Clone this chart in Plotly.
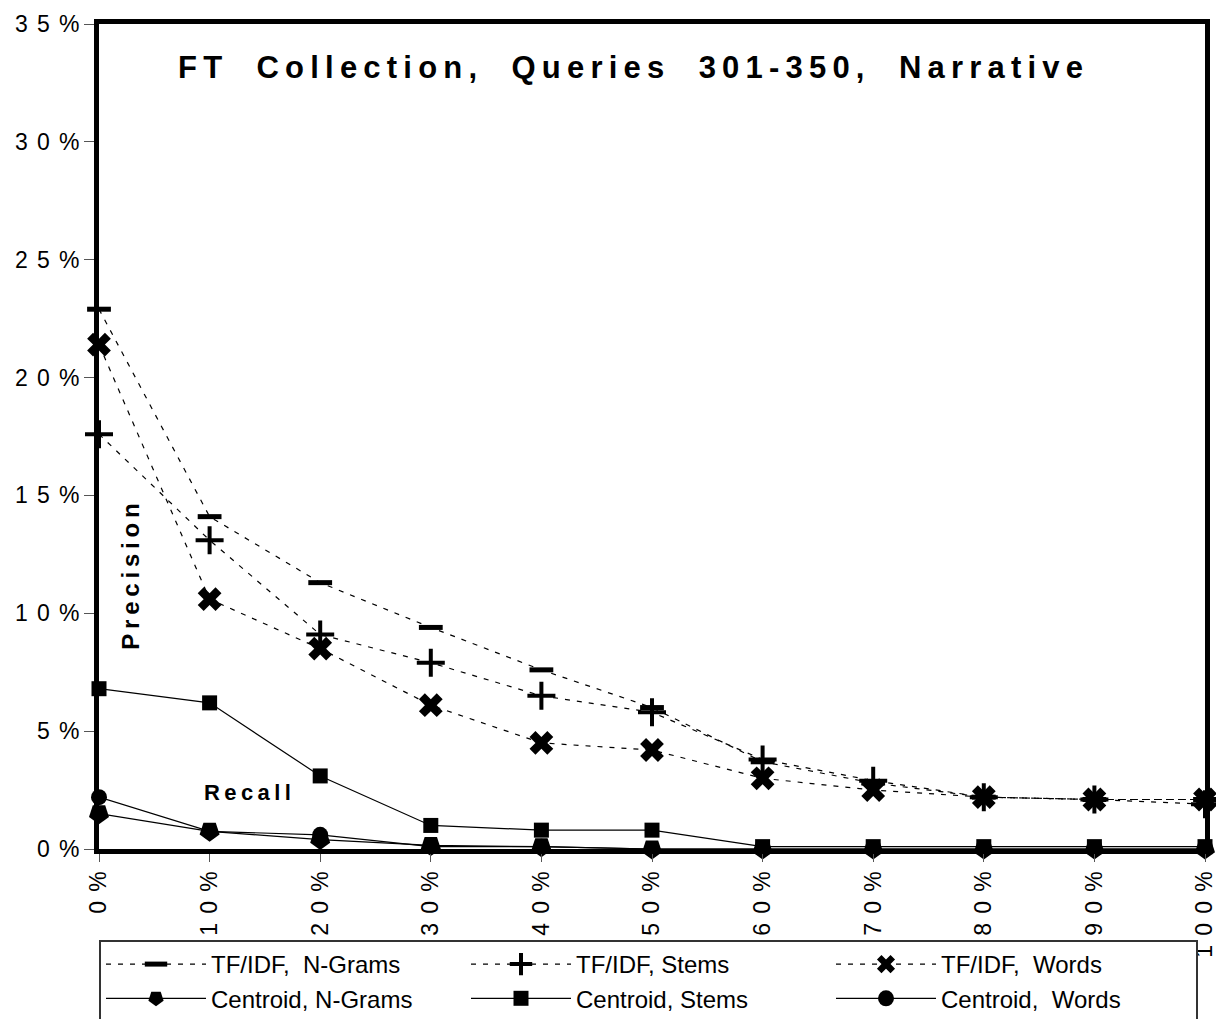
import plotly.graph_objects as go

recall = [0, 10, 20, 30, 40, 50, 60, 70, 80, 90, 100]
x_labels = ["0%", "10%", "20%", "30%", "40%", "50%", "60%", "70%", "80%", "90%", "100%"]
y_vals = [0, 5, 10, 15, 20, 25, 30, 35]
y_labels = ["0%", "5%", "10%", "15%", "20%", "25%", "30%", "35%"]

tfidf_ngrams = [22.9, 14.1, 11.3, 9.4, 7.6, 6.0, 3.7, 2.8, 2.2, 2.1, 2.1]
tfidf_stems = [17.6, 13.1, 9.1, 7.9, 6.5, 5.8, 3.8, 2.9, 2.2, 2.1, 1.9]
tfidf_words = [21.4, 10.6, 8.5, 6.1, 4.5, 4.2, 3.0, 2.5, 2.2, 2.1, 2.1]
cent_ngrams = [1.5, 0.75, 0.4, 0.15, 0.1, 0.0, 0.0, 0.0, 0.0, 0.0, 0.0]
cent_stems = [6.8, 6.2, 3.1, 1.0, 0.8, 0.8, 0.1, 0.1, 0.1, 0.1, 0.1]
cent_words = [2.2, 0.75, 0.6, 0.1, 0.1, 0.0, 0.0, 0.0, 0.0, 0.0, 0.0]

series_names = ["TF/IDF,  N-Grams", "TF/IDF, Stems", "TF/IDF,  Words",
                "Centroid, N-Grams", "Centroid, Stems", "Centroid,  Words"]

title_text = "FT    Collection,    Queries    301-350,    Narrative"

THIN = "\u2009"
NB = "\u00a0"


def spaced(s, sep):
    # letter-spaced rendering of a label; real spaces kept as non-breaking spaces
    out = []
    for i, ch in enumerate(s):
        if ch == " ":
            out.append(NB)
        else:
            out.append(ch)
            if i + 1 < len(s) and s[i + 1] != " ":
                out.append(sep)
    return "".join(out)


def keep_spaces(s):
    return s.replace(" ", NB)


FONT = "Arial, 'Liberation Sans', sans-serif"

styles = [
    ("5px,7px", dict(symbol="line-ew", size=17, line=dict(width=5, color="black"))),
    ("5px,7px", dict(symbol="cross-thin", size=20, line=dict(width=4, color="black"))),
    ("5px,7px", dict(symbol="x", size=21, color="black", line=dict(width=0))),
    ("solid", dict(symbol="pentagon", angle=180, size=21, color="black", line=dict(width=0))),
    ("solid", dict(symbol="square", size=15, color="black", line=dict(width=0))),
    ("solid", dict(symbol="circle", size=16, color="black", line=dict(width=0))),
]
values = [tfidf_ngrams, tfidf_stems, tfidf_words, cent_ngrams, cent_stems, cent_words]

fig = go.Figure()
for name, vals, (dash, marker) in zip(series_names, values, styles):
    fig.add_trace(go.Scatter(
        x=recall, y=vals, name=keep_spaces(name), mode="lines+markers",
        line=dict(color="black", width=1.2, dash=dash),
        marker=marker, cliponaxis=False,
    ))

fig.update_layout(
    width=1216, height=1019,
    margin=dict(l=99, r=11, t=24, b=170, autoexpand=False),
    paper_bgcolor="white", plot_bgcolor="white",
    font=dict(family=FONT, color="black", size=20),
    showlegend=True,
    legend=dict(
        orientation="h", xref="container", yref="container",
        x=99 / 1216, xanchor="left", y=1 - 940 / 1019, yanchor="top",
        entrywidth=250, entrywidthmode="pixels", traceorder="normal",
        bordercolor="#333333", borderwidth=2, bgcolor="white",
        font=dict(size=24, family=FONT),
        itemwidth=100, tracegroupgap=0,
    ),
    xaxis=dict(
        range=[0, 100], tickvals=recall, ticktext=[spaced(t, THIN * 2) for t in x_labels],
        tickangle=-90, automargin=False, ticklabeloverflow="allow",
        showgrid=False, zeroline=False, showline=True, linecolor="black", linewidth=5,
        mirror=True, ticks="outside", ticklen=8, tickcolor="#555", tickwidth=1,
        tickfont=dict(size=23),
    ),
    yaxis=dict(
        range=[0, 35], tickvals=y_vals, ticktext=[spaced(t, THIN * 2) for t in y_labels],
        automargin=False, ticklabeloverflow="allow",
        showgrid=False, zeroline=False, showline=True, linecolor="black", linewidth=5,
        mirror=True, ticks="outside", ticklen=10, tickcolor="#555", tickwidth=1,
        tickfont=dict(size=23),
    ),
    annotations=[
        dict(text="<b>" + spaced(title_text, THIN) + "</b>",
             xref="paper", yref="paper", x=0.481, y=0.947, xanchor="center", yanchor="middle",
             showarrow=False, font=dict(size=31, family=FONT)),
        dict(text="<b>" + spaced("Precision", THIN) + "</b>", xref="paper", yref="paper",
             x=0.029, y=0.33, xanchor="center", yanchor="middle",
             textangle=-90, showarrow=False, font=dict(size=24)),
        dict(text="<b>" + spaced("Recall", THIN) + "</b>", xref="paper", yref="paper",
             x=0.134, y=0.069, xanchor="center", yanchor="middle",
             showarrow=False, font=dict(size=22)),
    ],
)

fig.write_html("out.html", config={"displayModeBar": False},
               post_script="document.body.style.margin='0';")
